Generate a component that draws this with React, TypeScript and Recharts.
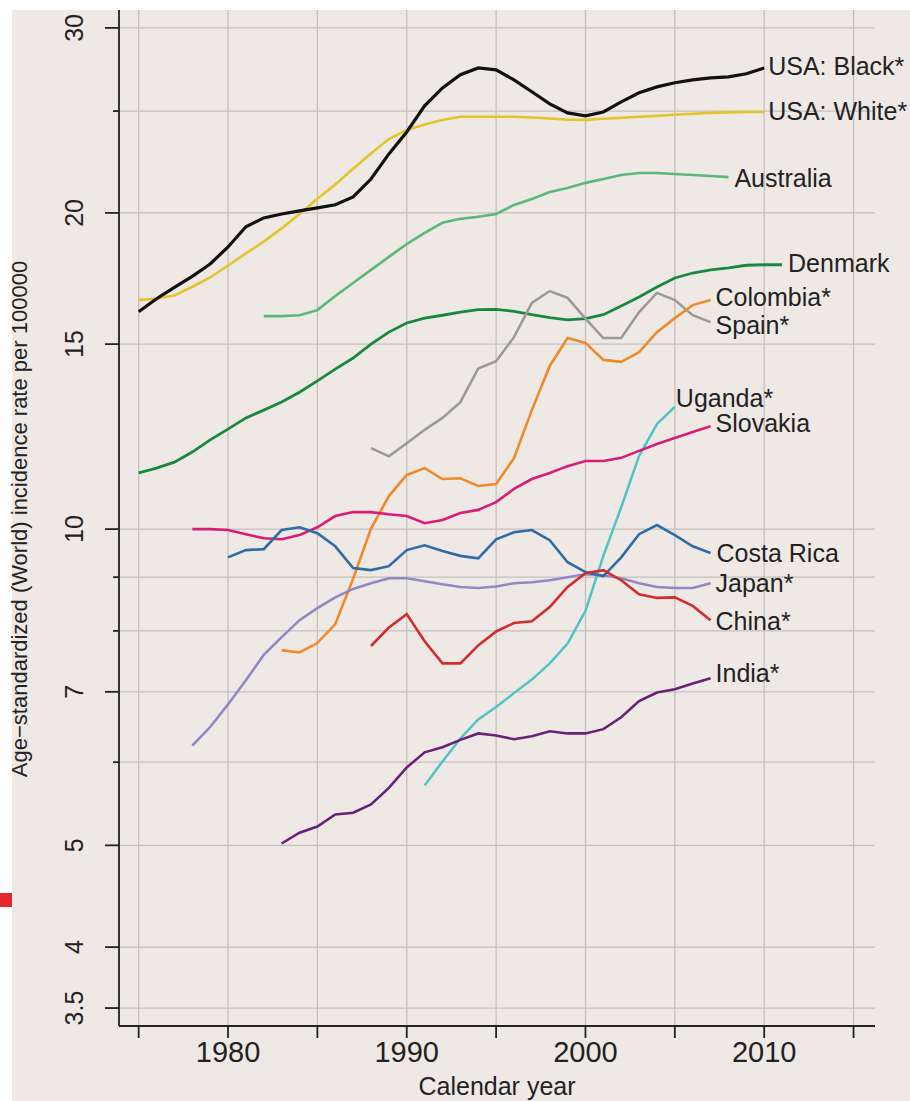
import { LineChart, Line, XAxis, YAxis, CartesianGrid } from "recharts";

// categories
const years = [
  1975, 1976, 1977, 1978, 1979, 1980, 1981, 1982, 1983, 1984, 1985, 1986, 1987,
  1988, 1989, 1990, 1991, 1992, 1993, 1994, 1995, 1996, 1997, 1998, 1999, 2000,
  2001, 2002, 2003, 2004, 2005, 2006, 2007, 2008, 2009, 2010, 2011,
];

// incidence per 100000, one value per year from the series' first year
const usaBlack = [
  16.1, 16.57, 16.99, 17.4, 17.88, 18.56, 19.4, 19.78, 19.95, 20.09, 20.22, 20.36,
  20.71, 21.54, 22.76, 23.88, 25.29, 26.3, 27.07, 27.48, 27.36, 26.77, 26.08, 25.4,
  24.9, 24.74, 24.95, 25.51, 26.02, 26.36, 26.6, 26.77, 26.89, 26.95, 27.13, 27.48,
]; // 1975-2010
const usaWhite = [
  16.52, 16.58, 16.69, 17.01, 17.36, 17.82, 18.3, 18.78, 19.33, 19.95, 20.63, 21.28,
  22.03, 22.78, 23.51, 23.99, 24.28, 24.52, 24.69, 24.69, 24.69, 24.69, 24.65, 24.6,
  24.53, 24.52, 24.58, 24.63, 24.69, 24.74, 24.8, 24.85, 24.9, 24.93, 24.95, 24.95,
]; // 1975-2010
const australia = [
  15.95, 15.95, 15.98, 16.16, 16.67, 17.15, 17.65, 18.16, 18.68, 19.14, 19.57, 19.74,
  19.83, 19.95, 20.35, 20.62, 20.94, 21.12, 21.36, 21.54, 21.73, 21.83, 21.83, 21.78,
  21.73, 21.68, 21.63,
]; // 1982-2008
const denmark = [
  11.31, 11.43, 11.58, 11.84, 12.16, 12.45, 12.76, 12.98, 13.21, 13.5, 13.84, 14.2,
  14.55, 15.0, 15.4, 15.71, 15.88, 15.98, 16.09, 16.18, 16.19, 16.12, 16.0, 15.9,
  15.82, 15.86, 16.0, 16.31, 16.63, 17.0, 17.34, 17.53, 17.65, 17.73, 17.83, 17.85,
  17.85,
]; // 1975-2011
const colombia = [
  7.67, 7.63, 7.79, 8.12, 8.97, 10.01, 10.75, 11.26, 11.43, 11.16, 11.18, 10.99,
  11.04, 11.68, 12.98, 14.3, 15.2, 15.04, 14.49, 14.43, 14.74, 15.4, 15.88, 16.34,
  16.52,
]; // 1983-2007
const spain = [
  11.94, 11.73, 12.07, 12.43, 12.76, 13.21, 14.22, 14.45, 15.23, 16.42, 16.85, 16.6,
  15.86, 15.2, 15.2, 16.09, 16.78, 16.52, 15.98, 15.74,
]; // 1988-2007
const uganda = [
  5.7, 6.01, 6.32, 6.59, 6.77, 6.98, 7.19, 7.45, 7.78, 8.36, 9.43, 10.49, 11.74,
  12.59, 13.07,
]; // 1991-2005
const slovakia = [
  10.0, 10.0, 9.98, 9.89, 9.8, 9.78, 9.87, 10.04, 10.29, 10.38, 10.38, 10.33, 10.29,
  10.13, 10.2, 10.36, 10.43, 10.61, 10.92, 11.16, 11.31, 11.48, 11.61, 11.61, 11.69,
  11.87, 12.05, 12.21, 12.37, 12.53,
]; // 1978-2007
const costaRica = [
  9.4, 9.55, 9.57, 9.98, 10.04, 9.91, 9.63, 9.18, 9.14, 9.22, 9.55, 9.65, 9.53, 9.43,
  9.38, 9.78, 9.93, 9.98, 9.76, 9.3, 9.1, 9.02, 9.4, 9.89, 10.09, 9.87, 9.63, 9.49,
]; // 1980-2007
const japan = [
  6.22, 6.48, 6.81, 7.18, 7.59, 7.89, 8.19, 8.41, 8.61, 8.77, 8.88, 8.98, 8.98, 8.92,
  8.86, 8.81, 8.79, 8.82, 8.88, 8.9, 8.94, 9.0, 9.06, 9.04, 8.98, 8.88, 8.81, 8.79,
  8.79, 8.88,
]; // 1978-2007
const china = [
  7.74, 8.06, 8.3, 7.82, 7.45, 7.45, 7.75, 7.99, 8.14, 8.17, 8.43, 8.81, 9.08, 9.14,
  8.94, 8.67, 8.6, 8.61, 8.45, 8.19,
]; // 1988-2007
const india = [
  5.02, 5.14, 5.21, 5.35, 5.37, 5.47, 5.67, 5.93, 6.13, 6.2, 6.3, 6.39, 6.36, 6.31,
  6.35, 6.42, 6.39, 6.39, 6.45, 6.62, 6.86, 6.99, 7.04, 7.13, 7.21,
]; // 1983-2007

// tick labels
const xTicks = [1975, 1980, 1985, 1990, 1995, 2000, 2005, 2010, 2015];
const xLabels = [1980, 1990, 2000, 2010];
const yTicks = [3.5, 4, 5, 6, 7, 8, 9, 10, 15, 20, 25, 30];
const yLabels = [3.5, 4, 5, 7, 10, 15, 20, 30];

const series = [
  { key: "usaWhite", name: "USA: White*", start: 1975, values: usaWhite, color: "#e3c52a", w: 2.6, dx: 4, dy: -1 },
  { key: "usaBlack", name: "USA: Black*", start: 1975, values: usaBlack, color: "#111111", w: 3.2, dx: 4, dy: -2 },
  { key: "australia", name: "Australia", start: 1982, values: australia, color: "#5cb878", w: 2.6, dx: 6, dy: 1 },
  { key: "denmark", name: "Denmark", start: 1975, values: denmark, color: "#18883e", w: 2.8, dx: 6, dy: -2 },
  { key: "spain", name: "Spain*", start: 1988, values: spain, color: "#999999", w: 2.5, dx: 5, dy: 3 },
  { key: "colombia", name: "Colombia*", start: 1983, values: colombia, color: "#f0892a", w: 2.6, dx: 5, dy: -3 },
  { key: "uganda", name: "Uganda*", start: 1991, values: uganda, color: "#4ec4c6", w: 2.5, dx: 1, dy: -9 },
  { key: "slovakia", name: "Slovakia", start: 1978, values: slovakia, color: "#d81c78", w: 2.6, dx: 5, dy: -3 },
  { key: "japan", name: "Japan*", start: 1978, values: japan, color: "#8e88c4", w: 2.5, dx: 5, dy: 0 },
  { key: "costaRica", name: "Costa Rica", start: 1980, values: costaRica, color: "#2f6ca6", w: 2.6, dx: 6, dy: 0 },
  { key: "china", name: "China*", start: 1988, values: china, color: "#d42c2c", w: 2.6, dx: 5, dy: 1 },
  { key: "india", name: "India*", start: 1983, values: india, color: "#6a2276", w: 2.6, dx: 5, dy: -5 },
];

const data = years.map((year) => {
  const row: Record<string, number | null> = { year };
  series.forEach((s) => {
    const i = year - s.start;
    row[s.key] = i >= 0 && i < s.values.length ? s.values[i] : null;
  });
  return row;
});

const FONT = "'Liberation Sans', Arial, Helvetica, sans-serif";
const INK = "#222";
const BG = "#efe9e6";

function YTick(props: any) {
  const { x, y, payload } = props;
  const v = payload.value;
  const major = yLabels.includes(v);
  const tx = x - 36;
  return (
    <g>
      <line x1={x - (major ? 14 : 6)} x2={x} y1={y} y2={y} stroke={INK} strokeWidth={1.8} />
      {major && (
        <text
          x={tx}
          y={y}
          transform={`rotate(-90 ${tx} ${y})`}
          textAnchor="middle"
          fontSize={25}
          fontFamily={FONT}
          fill={INK}
        >
          {v}
        </text>
      )}
    </g>
  );
}

function XTick(props: any) {
  const { x, y, payload } = props;
  const v = payload.value;
  return (
    <g>
      <line x1={x} x2={x} y1={y} y2={y + 12} stroke={INK} strokeWidth={1.8} />
      {xLabels.includes(v) && (
        <text x={x} y={y + 36} textAnchor="middle" fontSize={29} fontFamily={FONT} fill={INK}>
          {v}
        </text>
      )}
    </g>
  );
}

function endLabel(s: (typeof series)[number]) {
  const last = years.indexOf(s.start + s.values.length - 1);
  return (p: any) => {
    if (p.index !== last || p.cy == null) return <g key={`dot-${p.index}`} />;
    return (
      <text
        key={`dot-${p.index}`}
        x={p.cx + s.dx}
        y={p.cy + s.dy + 9}
        fontSize={25}
        fontFamily={FONT}
        fill={INK}
      >
        {s.name}
      </text>
    );
  };
}

function YTitle(p: any) {
  const vb = p.viewBox || { x: 0, y: 10, width: 119, height: 1016 };
  const cx = vb.x + 27;
  const cy = vb.y + vb.height / 2 + 1;
  return (
    <text
      x={cx}
      y={cy}
      transform={`rotate(-90 ${cx} ${cy})`}
      textAnchor="middle"
      fontSize={22}
      fontFamily={FONT}
      fill={INK}
    >
      Age−standardized (World) incidence rate per 100000
    </text>
  );
}

export default function App() {
  return (
    <div style={{ position: "absolute", left: 0, top: 0, width: 910, height: 1101, background: "#fff" }}>
      <div style={{ position: "absolute", left: 12, top: 10, right: 0, bottom: 0, background: BG }} />
      <div style={{ position: "absolute", left: 0, top: 893, width: 12, height: 14, background: "#e5282b" }} />
      <div style={{ position: "absolute", left: 0, top: 0 }}>
        <LineChart
          width={910}
          height={1101}
          data={data}
          margin={{ top: 10, right: 35, left: 0, bottom: 0 }}
          style={{ fontFamily: FONT }}
        >
          <CartesianGrid stroke="#c6bfbc" strokeWidth={1.3} syncWithTicks />
          <XAxis
            dataKey="year"
            type="number"
            domain={[1973.9, 2016.2]}
            ticks={xTicks}
            interval={0}
            height={75}
            tickSize={0}
            tickMargin={0}
            tickLine={false}
            tick={<XTick />}
            axisLine={{ stroke: INK, strokeWidth: 1.8 }}
            label={{
              value: "Calendar year",
              position: "insideBottom",
              offset: 6,
              fill: INK,
              fontSize: 25,
              fontFamily: FONT,
            }}
          />
          <YAxis
            type="number"
            scale="log"
            domain={[3.365, 31.2]}
            ticks={yTicks}
            interval={0}
            width={119}
            tickSize={0}
            tickMargin={0}
            tickLine={false}
            tick={<YTick />}
            axisLine={{ stroke: INK, strokeWidth: 1.8 }}
            label={<YTitle />}
          />
          {series.map((s) => (
            <Line
              key={s.key}
              dataKey={s.key}
              type="linear"
              stroke={s.color}
              strokeWidth={s.w}
              dot={endLabel(s)}
              activeDot={false}
              isAnimationActive={false}
            />
          ))}
        </LineChart>
      </div>
    </div>
  );
}
